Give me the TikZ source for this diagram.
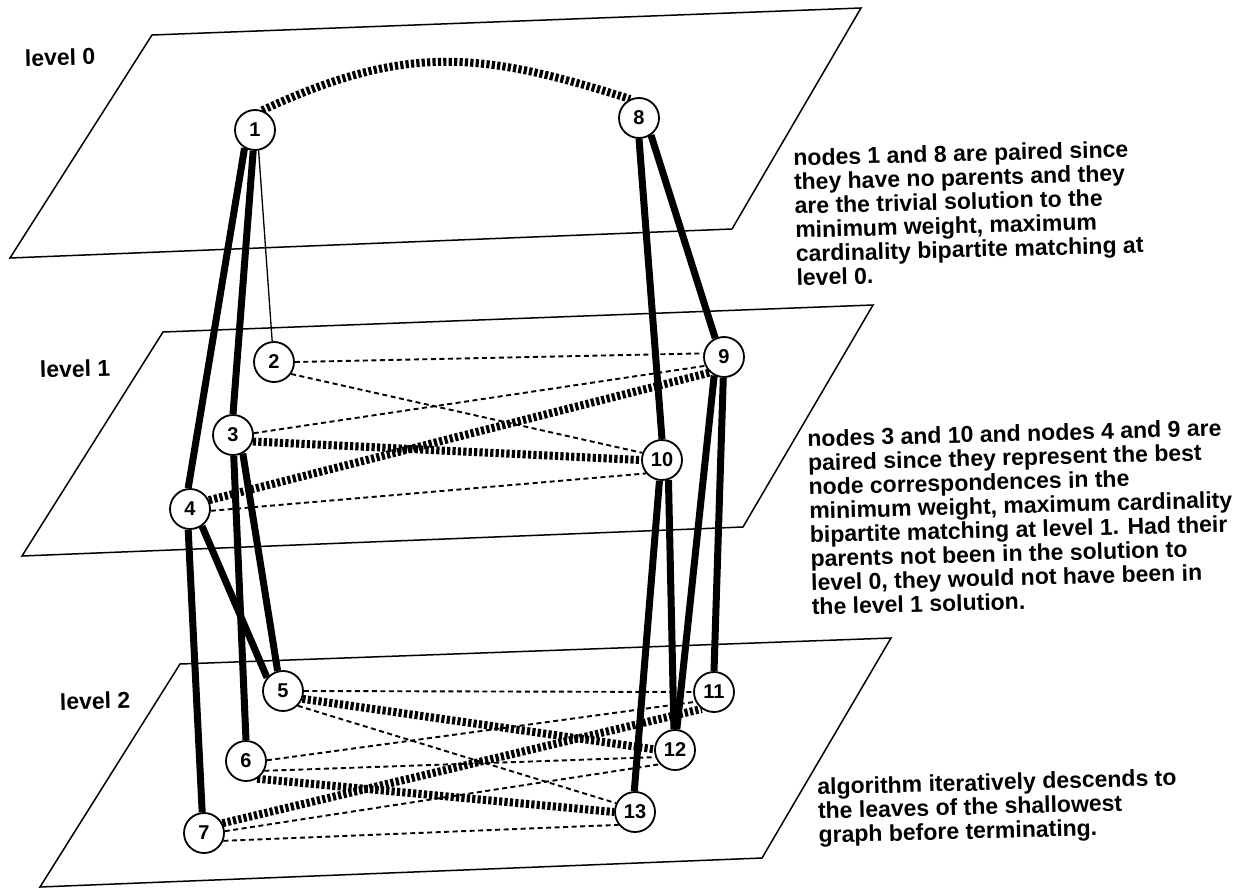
\documentclass[tikz,border=0pt]{standalone}
\usepackage{fontspec}
\setmainfont{Liberation Sans}
\pgfdeclarelayer{bg}
\pgfsetlayers{bg,main}
\begin{document}
\begin{tikzpicture}[x=1pt,y=-1pt,
  plane/.style={line width=1.5pt, line join=miter},
  vtx/.style={circle, draw, line width=1.8pt, fill=white, minimum size=40pt, inner sep=0pt, font=\bfseries\fontsize{20}{20}\selectfont},
  solidedge/.style={line width=7pt},
  thinedge/.style={line width=1.3pt},
  thindash/.style={line width=1.9pt, dash pattern=on 5pt off 3.5pt},
  thickdash/.style={line width=8pt, dash pattern=on 3.2pt off 2.2pt},
  lbl/.style={font=\bfseries\fontsize{23}{24}\selectfont, inner sep=0pt, rotate=1.5},
  note/.style={lbl, align=left, anchor=north west}
]
\useasboundingbox (0,0) rectangle (1246,888);

% planes
\draw[plane] (152,35) -- (861,8) -- (732,229) -- (10,258) -- cycle;
\draw[plane] (163,332) -- (873,305) -- (743,527) -- (22,556) -- cycle;
\draw[plane] (180,664) -- (891,638) -- (762,858) -- (40,887) -- cycle;

% level labels
\node[lbl, anchor=base west] (l0) at (25,66.5) {level 0};
\node[lbl, anchor=base west] (l1) at (40,378) {level 1};
\node[lbl, anchor=base west] (l2) at (60,710) {level 2};

% vertices
\node[vtx] (n1) at (255,130) {1};
\node[vtx] (n8) at (639,118) {8};
\node[vtx] (n2) at (274,362) {2};
\node[vtx] (n9) at (724,357) {9};
\node[vtx] (n3) at (233,435) {3};
\node[vtx] (n10) at (662,460) {10};
\node[vtx] (n4) at (190,509) {4};
\node[vtx] (n5) at (283,691) {5};
\node[vtx] (n11) at (714,692) {11};
\node[vtx] (n12) at (675,750) {12};
\node[vtx] (n6) at (246,761) {6};
\node[vtx] (n13) at (635,812) {13};
\node[vtx] (n7) at (204,833) {7};

\begin{pgfonlayer}{bg}
\fill[white] (0,0) rectangle (1246,888);
% level 0 pairing
\draw[thickdash] (n1.70) .. controls (405,44) and (480,51) .. (n8.115);
% parent-child links
\draw[solidedge] (n1.-120) -- (n4.95);
\draw[solidedge] (n1.-95) -- (n3.90);
\draw[thinedge] (n1.-80) -- (n2.95);
\draw[solidedge] (n8.-90) -- (n10.90);
\draw[solidedge] (n8.-55) -- (n9.115);
\draw[solidedge] (n3.-88) -- (n6.90);
\draw[solidedge] (n3.-62) -- (n5.105);
\draw[solidedge] (n4.-95) -- (n7.95);
\draw[solidedge] (n4.-55) -- (n5.140);
\draw[solidedge] (n10.-97) -- (n13.92);
\draw[solidedge] (n10.-72) -- (n12.93);
\draw[solidedge] (n9.-118) -- (n12.85);
\draw[solidedge] (n9.-92) -- (n11.90);
% level 1 matching
\draw[thindash] (n2.0) -- (n9.170);
\draw[thindash] (n2.-35) -- (n10.160);
\draw[thindash] (n3.5) -- (n9.-155);
\draw[thickdash] (n3.-18) -- (n10.180);
\draw[thickdash] (n4.25) -- (n9.-132);
\draw[thindash] (n4.-5) -- (n10.-140);
% level 2 matching
\draw[thindash] (n5.0) -- (n11.180);
\draw[thickdash] (n5.-22) -- (n12.178);
\draw[thindash] (n5.-45) -- (n13.155);
\draw[thindash] (n6.2) -- (n11.-152);
\draw[thindash] (n6.-28) -- (n12.-160);
\draw[thickdash] (n6.-58) -- (n13.180);
\draw[thickdash] (n7.28) -- (n11.-126);
\draw[thindash] (n7.5) -- (n12.-137);
\draw[thindash] (n7.-22) -- (n13.-142);
\end{pgfonlayer}

% notes
\node[note] (t1) at (793,149) {nodes 1 and 8 are paired since\\they have no parents and they\\are the trivial solution to the\\minimum weight, maximum\\cardinality bipartite matching at\\level 0.};
\node[note] (t2) at (807,430) {nodes 3 and 10 and nodes 4 and 9 are\\paired since they represent the best\\node correspondences in the\\minimum weight, maximum cardinality\\bipartite matching at level 1. Had their\\parents not been in the solution to\\level 0, they would not have been in\\the level 1 solution.};
\node[note] (t3) at (817,778) {algorithm iteratively descends to\\the leaves of the shallowest\\graph before terminating.};
\end{tikzpicture}
\end{document}
